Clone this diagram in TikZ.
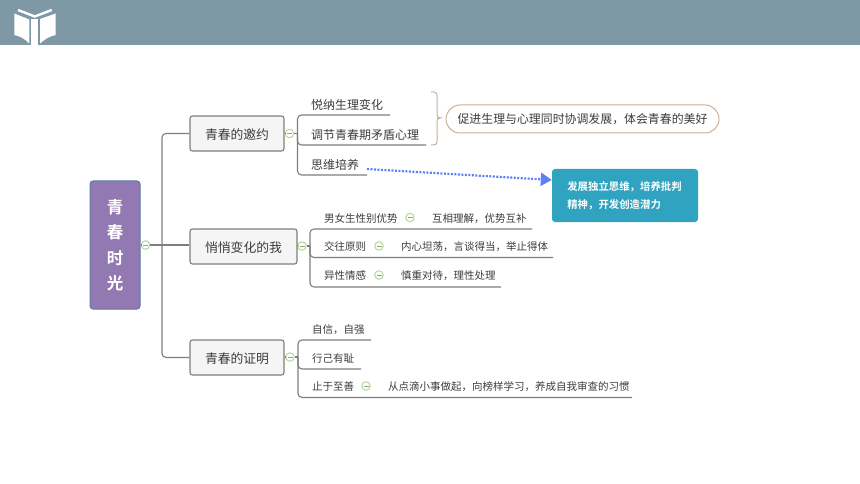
\documentclass[tikz,border=0pt]{standalone}
\usepackage{fontspec}
\setmainfont{Noto Sans CJK SC}
\newfontfamily\cjkbold[BoldFont={Noto Sans CJK SC Bold}]{Noto Sans CJK SC}
\usetikzlibrary{arrows.meta,decorations.pathreplacing}
\definecolor{hdr}{HTML}{7F98A6}
\definecolor{rootfill}{HTML}{9379B1}
\definecolor{rootline}{HTML}{5C79A6}
\definecolor{linegray}{HTML}{7E7E7E}
\definecolor{txtgray}{HTML}{3C3C3C}
\definecolor{collapsegreen}{HTML}{B4D79B}
\definecolor{tan}{HTML}{CBB09A}
\definecolor{tealbox}{HTML}{2FA3BF}
\definecolor{dotblue}{HTML}{5B80FA}
\tikzset{
  x=1pt,y=-1pt,
  topicbox/.style={draw=linegray,line width=1.1pt,fill=black!4,rounded corners=2.5pt,text=txtgray,inner sep=0pt,text height=14pt,text depth=2pt,font=\fontsize{12.8}{15}\selectfont},
  leaftext/.style={anchor=west,inner sep=0pt,text=txtgray,yshift=-.7pt,font=\fontsize{12}{14}\selectfont},
  smalltext/.style={anchor=west,inner sep=0pt,text=txtgray,yshift=-.8pt,font=\fontsize{10.5}{12}\selectfont},
  collapse/.style={circle,draw=collapsegreen,line width=1pt,fill=white,minimum size=8.5pt,inner sep=0pt,
    path picture={\draw[collapsegreen!80!black,line width=.7pt] ([xshift=-2.5pt]path picture bounding box.center) -- ([xshift=2.5pt]path picture bounding box.center);}},
  conn/.style={draw=linegray,line width=1.1pt,rounded corners=4pt},
}
\begin{document}
\begin{tikzpicture}
\useasboundingbox (0,0) rectangle (860,484);
% header
\fill[hdr] (0,0) rectangle (860,45);
% book icon
\fill[white] (14.3,13.5) -- (29.3,19.5) -- (29.3,43.5) .. controls (25,39) and (20,36) .. (14.3,35) -- cycle;
\fill[white] (55.7,13.5) -- (40,19) -- (40,43.5) .. controls (45,39) and (50,36) .. (55.7,35) -- cycle;
\fill[white] (31,19) -- (38.3,19) -- (38.3,45) -- (31,45) -- cycle;
\draw[white,line width=2.4pt] (18,10) -- (34.7,16.5) -- (51.7,10);
% nodes
\node[draw=rootline,line width=1pt,fill=rootfill,rounded corners=3pt,minimum width=50pt,minimum height=128pt,inner sep=0pt,text=white,align=center,font=\cjkbold\bfseries\fontsize{16.5}{25.5}\selectfont] (root) at (115,245) {青\\春\\时\\光};
\node[collapse] (cr) at (145.5,245) {};
\coordinate (rj) at (162,245);
\node[topicbox,minimum width=94pt,minimum height=35pt] (b1) at (237,133.5) {青春的邀约};
\node[topicbox,minimum width=107pt,minimum height=35pt] (b2) at (243.5,246.5) {悄悄变化的我};
\node[topicbox,minimum width=94pt,minimum height=35pt] (b3) at (237,357.5) {青春的证明};
\node[collapse] (c1) at (289.5,133.5) {};
\node[collapse] (c2) at (302,246) {};
\node[collapse] (c3) at (290,357) {};
\coordinate (j1) at (297.5,133.5);
\coordinate (j2) at (310,246);
\coordinate (j3) at (298,357);
% branch one
\node[leaftext] (a1) at (311,104) {悦纳生理变化};
\node[leaftext] (a2) at (311,134) {调节青春期矛盾心理};
\node[leaftext] (a3) at (311,164) {思维培养};
\coordinate (a1e) at (390,115);
\coordinate (a2e) at (426,145);
\coordinate (a3e) at (367,175);
\coordinate (bt) at (431,92);
\coordinate (bb) at (431,145);
\node[draw=tan,line width=1pt,fill=white,rounded corners=14pt,minimum width=273pt,minimum height=28pt,inner sep=0pt,text=txtgray,font=\fontsize{11.9}{14}\selectfont] (sum) at (582.5,119) {促进生理与心理同时协调发展，体会青春的美好};
\node[fill=tealbox,rounded corners=3pt,minimum width=146pt,minimum height=53pt,inner sep=0pt,text=white,align=left,font=\cjkbold\bfseries\fontsize{10.4}{18}\selectfont] (note) at (625,195.5) {\hspace{-1pt}发展独立思维，培养批判\\\hspace{-1pt}精神，开发创造潜力\phantom{培养}};
\coordinate (ds) at (367,169);
% branch two
\node[smalltext] (d1) at (324,218) {男女生性别优势};
\node[collapse] (d1c) at (410,217.5) {};
\node[smalltext] (d1t) at (432,218) {互相理解，优势互补};
\node[smalltext] (d2) at (324,246) {交往原则};
\node[collapse] (d2c) at (379,246) {};
\node[smalltext] (d2t) at (401,246) {内心坦荡，言谈得当，举止得体};
\node[smalltext] (d3) at (324,275) {异性情感};
\node[collapse] (d3c) at (379,275) {};
\node[smalltext] (d3t) at (401,275) {慎重对待，理性处理};
\coordinate (d1e) at (532,229);
\coordinate (d2e) at (553,257.5);
\coordinate (d3e) at (501,287);
% branch three
\node[smalltext] (e1) at (312,329) {自信，自强};
\node[smalltext] (e2) at (312,358) {行己有耻};
\node[smalltext] (e3) at (312,386) {止于至善};
\node[collapse] (e3c) at (366,386) {};
\node[smalltext] (e3t) at (388,386) {从点滴小事做起，向榜样学习，养成自我审查的习惯};
\coordinate (e1e) at (371,340);
\coordinate (e2e) at (361,369);
\coordinate (e3e) at (632,397.5);
% connectors
\draw[conn] (root.east |- cr) -- (cr.west);
\draw[conn] (cr.east) -- (rj);
\draw[conn] (rj) |- (b1.west);
\draw[conn] (rj) -- (b2.west |- rj);
\draw[conn] (rj) |- (b3.west);
\foreach \i in {1,2,3} {\draw[conn] (b\i.east |- c\i) -- (c\i.west); \draw[conn] (c\i.east) -- (j\i);}
\draw[conn] (j1) |- (a1e);
\draw[conn] (j1) |- (a2e);
\draw[conn] (j1) |- (a3e);
\draw[conn] (j2) |- (d1e);
\draw[conn] (j2) |- (d2e);
\draw[conn] (j2) |- (d3e);
\draw[conn] (j3) |- (e1e);
\draw[conn] (j3) |- (e2e);
\draw[conn] (j3) |- (e3e);
\draw[tan,line width=1pt,rounded corners=3pt] (bt) -- (437,92) -- (437,118) -- (440,118) -- (437,118) -- (437,145) -- (bb);
\draw[dotblue,line width=2.2pt,dash pattern=on 2pt off 1.5pt,-{Triangle[length=11pt,width=13pt,fill=dotblue]}] (ds) -- (note.west |- 0,180);
\end{tikzpicture}
\end{document}
